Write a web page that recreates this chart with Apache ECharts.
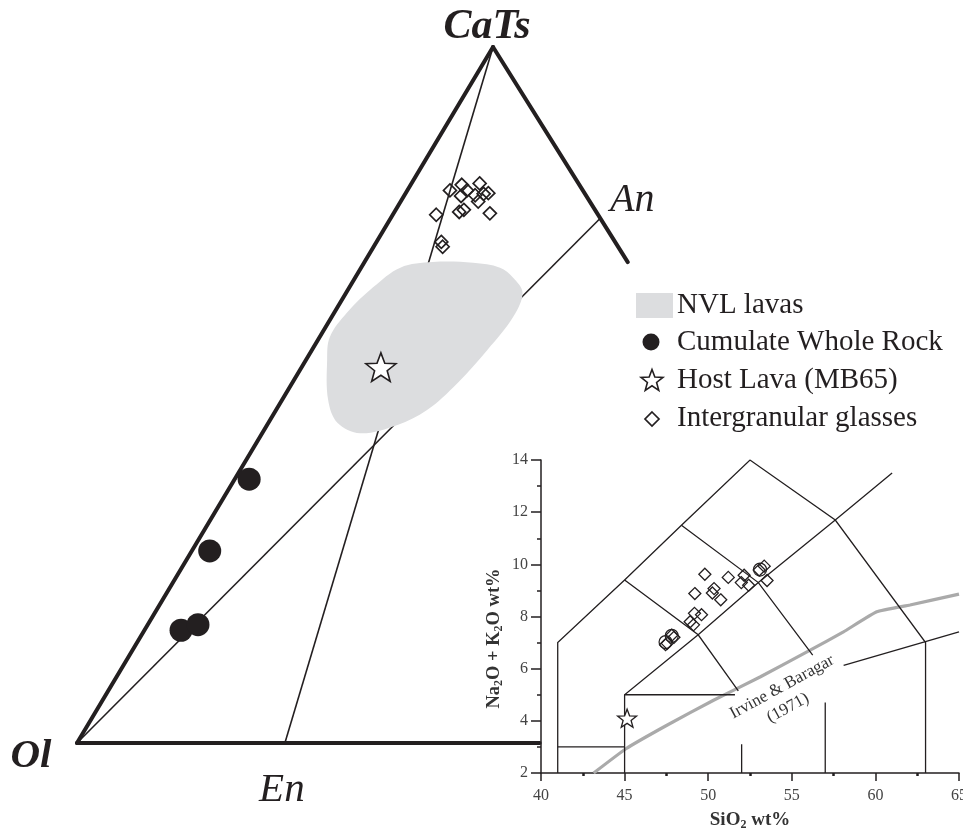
<!DOCTYPE html>
<html><head><meta charset="utf-8">
<script src="https://cdn.jsdelivr.net/npm/echarts@6/dist/echarts.min.js"></script>
<style>html,body{margin:0;padding:0;background:#fff}#c{width:963px;height:828px}</style>
</head><body><div id="c"></div>
<script>
// ---------- Ternary projection: values are [CaTs %, Qz %]; Ol = 100 - CaTs - Qz ----------
const vertexLabels = ['CaTs', 'Ol', 'An', 'En'];
const vertexPoints = [[100, 0], [0, 0], [75.4, 24.6], [0, 24.4]];
const edgeOlCaTs = [[0, 0], [100, 0]];
const edgeCaTsRight = [[100, 0], [69.1, 30.9]];
const edgeBottom = [[0, 0], [0, 54.3]];
const tieOlAn = [[0, 0], [75.4, 24.6]];
const tieCaTsEn = [[100, 0], [0, 24.4]];
const cumulateWholeRock = [[37.9, 1.7], [27.6, 2.1], [16.2, 4.3], [17.0, 5.9]];
const hostLavaTernary = [[54.0, 9.3]];
const glassesTernary = [
  [79.4, 5.0], [80.2, 6.0], [79.4, 7.0], [78.6, 6.7], [80.4, 8.0], [79.0, 9.7],
  [77.8, 9.1], [78.9, 9.2], [76.3, 7.6], [76.6, 8.0], [75.9, 5.1], [76.1, 11.3],
  [72.0, 7.6], [71.3, 8.1], [78.7, 8.3]
];
const nvlLavas = [
  [66.9, 18.5], [64.7, 20.7], [61.2, 21.3], [56.5, 20.6], [51.7, 19.4], [47.8, 17.7],
  [45.7, 15.3], [44.5, 11.5], [46.0, 8.1], [49.3, 5.4], [55.0, 2.5], [58.3, 1.2],
  [61.8, 1.5], [65.5, 2.8], [68.3, 4.6], [69.1, 8.0], [69.0, 12.8], [68.3, 16.3]
];

// ---------- TAS inset: [SiO2 wt%, Na2O+K2O wt%] ----------
const tasXRange = [40, 65];
const tasYRange = [2, 14];
const tasGlasses = [
  [49.8, 9.62], [51.2, 9.5], [49.2, 8.88], [50.35, 9.07], [50.25, 8.9], [50.75, 8.64],
  [52.15, 9.58], [51.98, 9.3], [52.42, 9.2], [53.52, 9.38], [53.35, 9.93], [53.05, 9.78],
  [49.6, 8.07], [49.18, 8.12], [48.92, 7.8], [49.12, 7.68], [47.82, 7.28], [47.55, 6.97],
  [47.95, 7.2], [47.45, 6.92]
];
const tasGlassesOverlap = [[47.45, 7.02], [47.82, 7.26], [53.1, 9.8]];
const tasHostLava = [[45.15, 4.1]];
const tasBoundaries = [
  [[41, 2], [41, 7], [45, 9.4], [48.4, 11.5], [52.5, 14], [57.6, 11.7], [63, 7], [63, 2]],
  [[45, 2], [45, 5], [49.4, 7.3], [53, 9.3], [57.6, 11.7], [61, 13.5]],
  [[41, 3], [45, 3]],
  [[45, 5], [51.6, 5]],
  [[45, 9.4], [49.4, 7.3], [51.8, 5.15]],
  [[48.4, 11.5], [53, 9.3], [56.25, 6.52]],
  [[52, 2], [52, 3.1]],
  [[57, 2], [57, 4.7]],
  [[58.1, 6.13], [65, 7.41]]
];
const irvineBaragar = [
  [43.15, 2.0], [45.08, 2.93], [47.53, 3.83], [50.32, 4.79], [53.1, 5.68], [56.1, 6.71],
  [58.09, 7.41], [60.08, 8.18], [62.07, 8.44], [65, 8.86]
];

// ---------- helpers ----------
const APEX = 0.4883; // horizontal position of CaTs apex along the base
function tern(p) { const c = p[0] / 100, q = p[1] / 100; return [q + c * APEX, c]; }
function starPts(cx, cy, R, k) {
  const pts = [];
  for (let i = 0; i < 10; i++) {
    const r = i % 2 === 0 ? R : R * k;
    const a = -Math.PI / 2 + i * Math.PI / 5;
    pts.push([cx + r * Math.cos(a), cy + r * Math.sin(a)]);
  }
  return pts;
}
const starPath = 'path://' + starPts(0, 0, 100, 0.42).map((p, i) => (i ? 'L' : 'M') + p[0].toFixed(2) + ' ' + p[1].toFixed(2)).join(' ') + 'Z';
const INK = '#231f20';
const SERIF = '"Liberation Serif", "Times New Roman", serif';
const nvlXY = nvlLavas.map(tern);

const vertexStyles = [
  { fontStyle: 'italic', fontWeight: 'bold', fontSize: 42, offset: [-6, -20] },
  { fontStyle: 'italic', fontWeight: 'bold', fontSize: 41, offset: [-46, 13] },
  { fontStyle: 'italic', fontWeight: 'normal', fontSize: 40, offset: [32, -18] },
  { fontStyle: 'italic', fontWeight: 'normal', fontSize: 41, offset: [-3, 47] }
];

const chart = echarts.init(document.getElementById('c'), null, { renderer: 'canvas' });
const sub = { fontSize: 12, fontWeight: 'bold', fontFamily: SERIF, color: '#333', padding: [9, 0, 0, 0] };

const option = {
  animation: false,
  backgroundColor: '#fff',
  grid: [
    { left: 77, top: 47, width: 852, height: 696, containLabel: false, outerBoundsMode: 'none' },
    { left: 541, top: 460, width: 418, height: 313, containLabel: false, outerBoundsMode: 'none' }
  ],
  xAxis: [
    { gridIndex: 0, type: 'value', min: 0, max: 1, show: false },
    {
      gridIndex: 1, type: 'value', min: tasXRange[0], max: tasXRange[1], interval: 5,
      axisLine: { show: true, lineStyle: { color: INK, width: 1.5 } },
      axisTick: { show: true, length: 8, lineStyle: { color: INK, width: 1.5 } },
      minorTick: { show: true, splitNumber: 2, length: 3, lineStyle: { color: INK, width: 2.5 } },
      splitLine: { show: false },
      axisLabel: { fontFamily: SERIF, fontSize: 16, color: '#444', margin: 15, showMaxLabel: true, hideOverlap: false },
      name: 'SiO{s|2} wt%', nameLocation: 'middle', nameGap: 37,
      nameTextStyle: { fontFamily: SERIF, fontWeight: 'bold', fontSize: 19, color: '#333', rich: { s: sub } }
    }
  ],
  yAxis: [
    { gridIndex: 0, type: 'value', min: 0, max: 1, show: false },
    {
      gridIndex: 1, type: 'value', min: tasYRange[0], max: tasYRange[1], interval: 2,
      axisLine: { show: true, lineStyle: { color: INK, width: 1.5 } },
      axisTick: { show: true, length: 10, lineStyle: { color: INK, width: 1.5 } },
      minorTick: { show: true, splitNumber: 2, length: 4, lineStyle: { color: INK, width: 1.5 } },
      splitLine: { show: false },
      axisLabel: { fontFamily: SERIF, fontSize: 16, color: '#444', margin: 13 },
      name: 'Na{s|2}O + K{s|2}O wt%', nameLocation: 'middle', nameGap: 36,
      nameTextStyle: { fontFamily: SERIF, fontWeight: 'bold', fontSize: 18.5, color: '#333', rich: { s: sub }, padding: [0, 44, 0, 0] }
    }
  ],
  series: [
    // thin tie lines (under NVL field)
    {
      type: 'lines', coordinateSystem: 'cartesian2d', xAxisIndex: 0, yAxisIndex: 0, polyline: true, silent: true, z: 2,
      lineStyle: { color: INK, width: 1.6, opacity: 1 },
      data: [tieOlAn, tieCaTsEn].map(s => ({ coords: s.map(tern) }))
    },
    // NVL lavas field
    {
      type: 'custom', xAxisIndex: 0, yAxisIndex: 0, silent: true, z: 3,
      data: nvlXY, encode: { x: 0, y: 1 },
      renderItem: function (params, api) {
        if (params.dataIndex !== 0) return null;
        const pts = nvlXY.map(p => api.coord(p));
        return { type: 'polygon', shape: { points: pts, smooth: 0.35 }, style: { fill: '#dcdddf', stroke: null } };
      }
    },
    // thick triangle edges
    {
      type: 'lines', coordinateSystem: 'cartesian2d', xAxisIndex: 0, yAxisIndex: 0, polyline: true, silent: true, z: 4,
      lineStyle: { color: INK, width: 4, opacity: 1, cap: 'round', join: 'round' },
      data: [edgeOlCaTs, edgeCaTsRight, edgeBottom].map(s => ({ coords: s.map(tern) }))
    },
    // vertex labels
    {
      type: 'scatter', xAxisIndex: 0, yAxisIndex: 0, silent: true, z: 6, symbolSize: 1,
      itemStyle: { color: 'rgba(0,0,0,0)', opacity: 1 },
      data: vertexPoints.map((p, i) => ({
        value: tern(p),
        label: {
          show: true, position: 'inside', formatter: vertexLabels[i], color: INK, fontFamily: SERIF,
          align: 'center', verticalAlign: 'middle',
          fontStyle: vertexStyles[i].fontStyle, fontWeight: vertexStyles[i].fontWeight,
          fontSize: vertexStyles[i].fontSize, offset: vertexStyles[i].offset
        }
      }))
    },
    {
      name: 'Cumulate Whole Rock', type: 'scatter', xAxisIndex: 0, yAxisIndex: 0, silent: true, z: 6,
      symbol: 'circle', symbolSize: 23, itemStyle: { color: INK, opacity: 1 },
      data: cumulateWholeRock.map(tern)
    },
    {
      name: 'Host Lava (MB65)', type: 'scatter', xAxisIndex: 0, yAxisIndex: 0, silent: true, z: 6,
      symbol: starPath, symbolKeepAspect: true, symbolSize: 30,
      itemStyle: { color: '#fff', borderColor: INK, borderWidth: 1.6, opacity: 1 },
      data: hostLavaTernary.map(tern)
    },
    {
      name: 'Intergranular glasses', type: 'scatter', xAxisIndex: 0, yAxisIndex: 0, silent: true, z: 6,
      symbol: 'diamond', symbolSize: 13,
      itemStyle: { color: 'rgba(0,0,0,0)', borderColor: INK, borderWidth: 1.7, opacity: 1 },
      data: glassesTernary.map(tern)
    },
    // ---------- TAS inset ----------
    {
      type: 'line', xAxisIndex: 1, yAxisIndex: 1, silent: true, z: 3, smooth: 0.12, showSymbol: false, symbol: 'none',
      lineStyle: { color: '#aaaaaa', width: 3.2 },
      data: irvineBaragar
    },
    {
      type: 'lines', coordinateSystem: 'cartesian2d', xAxisIndex: 1, yAxisIndex: 1, polyline: true, silent: true, z: 4,
      lineStyle: { color: INK, width: 1.3, opacity: 1 },
      data: tasBoundaries.map(s => ({ coords: s }))
    },
    {
      type: 'scatter', xAxisIndex: 1, yAxisIndex: 1, silent: true, z: 6,
      symbol: 'diamond', symbolSize: 12,
      itemStyle: { color: 'rgba(0,0,0,0)', borderColor: INK, borderWidth: 1.3, opacity: 1 },
      data: tasGlasses
    },
    {
      type: 'scatter', xAxisIndex: 1, yAxisIndex: 1, silent: true, z: 6,
      symbol: 'circle', symbolSize: 13,
      itemStyle: { color: 'rgba(0,0,0,0)', borderColor: INK, borderWidth: 1.2, opacity: 1 },
      data: tasGlassesOverlap
    },
    {
      type: 'scatter', xAxisIndex: 1, yAxisIndex: 1, silent: true, z: 6,
      symbol: starPath, symbolKeepAspect: true, symbolSize: 19,
      itemStyle: { color: '#fff', borderColor: INK, borderWidth: 1.3, opacity: 1 },
      data: tasHostLava
    }
  ],
  graphic: [
    // legend
    { type: 'rect', shape: { x: 636, y: 293, width: 37, height: 25 }, style: { fill: '#dcdddf' }, z: 10 },
    { type: 'circle', shape: { cx: 651, cy: 342, r: 8.5 }, style: { fill: INK }, z: 10 },
    { type: 'polygon', shape: { points: starPts(652, 381, 11.5, 0.42) }, style: { fill: '#fff', stroke: INK, lineWidth: 1.6 }, z: 10 },
    { type: 'polygon', shape: { points: [[652, 412], [659, 419], [652, 426], [645, 419]] }, style: { fill: 'none', stroke: INK, lineWidth: 1.7 }, z: 10 },
    { type: 'text', x: 677, y: 305, style: { text: 'NVL lavas', fill: INK, font: '29px ' + SERIF, textVerticalAlign: 'middle' }, z: 10 },
    { type: 'text', x: 677, y: 342, style: { text: 'Cumulate Whole Rock', fill: INK, font: '29px ' + SERIF, textVerticalAlign: 'middle' }, z: 10 },
    { type: 'text', x: 677, y: 380, style: { text: 'Host Lava (MB65)', fill: INK, font: '29px ' + SERIF, textVerticalAlign: 'middle' }, z: 10 },
    { type: 'text', x: 677, y: 418, style: { text: 'Intergranular glasses', fill: INK, font: '29px ' + SERIF, textVerticalAlign: 'middle' }, z: 10 },
    // Irvine & Baragar annotation
    { type: 'text', x: 782, y: 687, rotation: 0.5, style: { text: 'Irvine & Baragar', fill: '#333', font: '17px ' + SERIF, textAlign: 'center', textVerticalAlign: 'middle' }, z: 10 },
    { type: 'text', x: 788, y: 708, rotation: 0.5, style: { text: '(1971)', fill: '#333', font: '17px ' + SERIF, textAlign: 'center', textVerticalAlign: 'middle' }, z: 10 }
  ]
};
chart.setOption(option);
</script>
</body></html>
